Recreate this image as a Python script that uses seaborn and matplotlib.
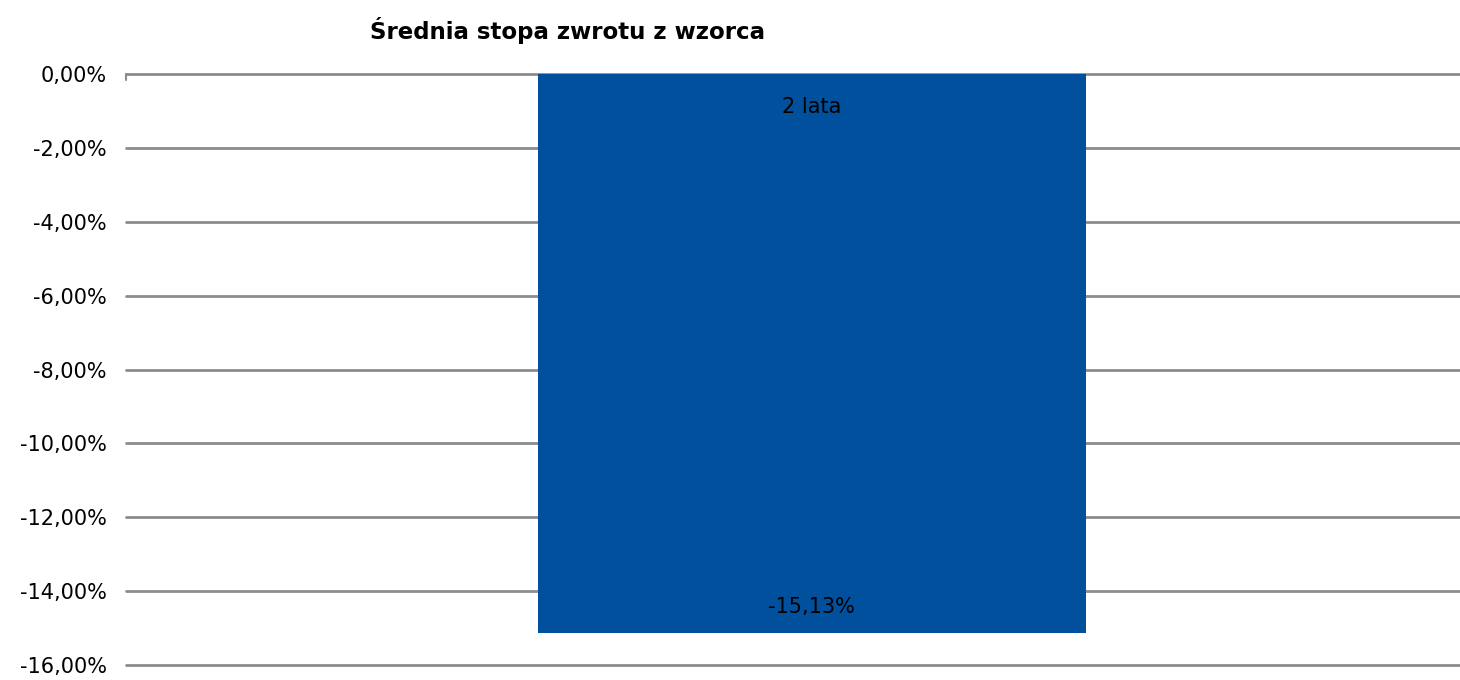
import matplotlib
matplotlib.use("Agg")
import matplotlib.pyplot as plt
import seaborn as sns
import pandas as pd
from matplotlib.ticker import FuncFormatter

categories = ["2 lata"]
values = [-15.13]
y_ticks = [0, -2, -4, -6, -8, -10, -12, -14, -16]

sns.set_style("white")
plt.rcParams["font.family"] = ["DejaVu Sans"]

df = pd.DataFrame({"okres": categories, "stopa": values})

fig = plt.figure(figsize=(14.6, 6.8), dpi=100)
ax = fig.add_axes([126 / 1460, 1 - 665 / 680, (1460 - 126) / 1460, (665 - 74) / 680])

sns.barplot(data=df, x="okres", y="stopa", color="#00509E", saturation=1,
            width=0.411, linewidth=0, ax=ax, zorder=3)

ax.set_xlim(-0.514, 0.486)
ax.set_ylim(-16, 0)
ax.set_yticks(y_ticks)
ax.yaxis.set_major_formatter(FuncFormatter(lambda v, p: f"{v:.2f}%".replace(".", ",")))
ax.grid(axis="y", color="#8c8c8c", linewidth=2, zorder=0)
for gl in ax.get_ygridlines():
    gl.set_clip_on(False)
ax.set_axisbelow(True)
for s in ax.spines.values():
    s.set_visible(False)
ax.tick_params(axis="y", length=0, pad=14, labelsize=15, labelcolor="#000000")
ax.set_xticks([])
ax.set_xlabel("")
ax.set_ylabel("")

# small tick at the left end of the zero line
ax.plot([-0.514, -0.514], [0, -0.15], color="#8c8c8c", lw=1.5, clip_on=False, zorder=4)

for i, (cat, val) in enumerate(zip(categories, values)):
    ax.text(i, -0.9, cat, ha="center", va="center", fontsize=15, color="#000000",
            zorder=5)
    ax.text(i, val + 0.7, f"{val:.2f}%".replace(".", ","), ha="center", va="center",
            fontsize=15, color="#000000", zorder=5)

fig.text(567 / 1460, 1 - 30 / 680, "Średnia stopa zwrotu z wzorca", ha="center",
         va="center", fontsize=16.5, fontweight="bold", color="#000000")

fig.savefig("out.png", dpi=100, facecolor="white")
